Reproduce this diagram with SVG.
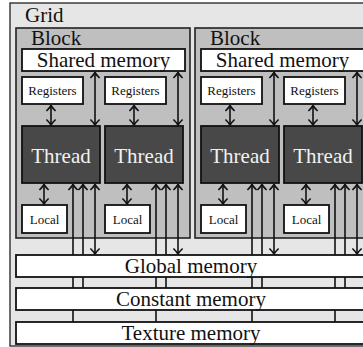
<svg xmlns="http://www.w3.org/2000/svg" width="363" height="347" viewBox="0 0 363 347">
<style>
text{font-family:"Liberation Serif","Times New Roman",serif;fill:#111}
.big{font-size:21px}
.sm{font-size:13px}
.c{text-anchor:middle}
.grid{fill:#e6e6e6;stroke:#222;stroke-width:1.3}
.block{fill:#bfbfbf;stroke:#222;stroke-width:1.6}
.box{fill:#fff;stroke:#111;stroke-width:1.8}
.thr{fill:#484848;stroke:#111;stroke-width:1.8}
.thrt{fill:#f2f2f2}
.ln{stroke:#111;stroke-width:1.6;fill:none}
</style>
<defs>
<marker id="ah" viewBox="-7 -6 8 12" markerUnits="userSpaceOnUse" markerWidth="8" markerHeight="12" refX="0" refY="0" orient="auto-start-reverse">
<path d="M-5.5,-4.6 Q-2.2,-1.2 0,0 Q-2.2,1.2 -5.5,4.6" fill="none" stroke="#111" stroke-width="1.6"/>
</marker>
</defs>
<g id="grid">
<rect class="grid" x="10" y="3" width="365" height="343"/>
<text class="big" x="25" y="22">Grid</text>
</g>
<g id="block1">
<rect class="block" x="16" y="28" width="174" height="210"/>
<text class="big" x="31" y="45">Block</text>
</g>
<g id="block2">
<rect class="block" x="195" y="28" width="174" height="210"/>
<text class="big" x="210" y="45">Block</text>
</g>
<g id="connectors">
<line class="ln" x1="51" y1="105.5" x2="51" y2="125" marker-start="url(#ah)" marker-end="url(#ah)"/>
<line class="ln" x1="134" y1="105.5" x2="134" y2="125" marker-start="url(#ah)" marker-end="url(#ah)"/>
<line class="ln" x1="95" y1="72.5" x2="95" y2="125" marker-start="url(#ah)" marker-end="url(#ah)"/>
<line class="ln" x1="178" y1="72.5" x2="178" y2="125" marker-start="url(#ah)" marker-end="url(#ah)"/>
<line class="ln" x1="44" y1="184.5" x2="44" y2="204" marker-start="url(#ah)" marker-end="url(#ah)"/>
<line class="ln" x1="127" y1="184.5" x2="127" y2="204" marker-start="url(#ah)" marker-end="url(#ah)"/>
<line class="ln" x1="95" y1="184.5" x2="95" y2="254" marker-start="url(#ah)" marker-end="url(#ah)"/>
<line class="ln" x1="178" y1="184.5" x2="178" y2="254" marker-start="url(#ah)" marker-end="url(#ah)"/>
<line class="ln" x1="83" y1="288" x2="83" y2="184.5" marker-end="url(#ah)"/>
<line class="ln" x1="166" y1="288" x2="166" y2="184.5" marker-end="url(#ah)"/>
<line class="ln" x1="73" y1="322" x2="73" y2="184.5" marker-end="url(#ah)"/>
<line class="ln" x1="156" y1="322" x2="156" y2="184.5" marker-end="url(#ah)"/>
<line class="ln" x1="230" y1="105.5" x2="230" y2="125" marker-start="url(#ah)" marker-end="url(#ah)"/>
<line class="ln" x1="313" y1="105.5" x2="313" y2="125" marker-start="url(#ah)" marker-end="url(#ah)"/>
<line class="ln" x1="274" y1="72.5" x2="274" y2="125" marker-start="url(#ah)" marker-end="url(#ah)"/>
<line class="ln" x1="357" y1="72.5" x2="357" y2="125" marker-start="url(#ah)" marker-end="url(#ah)"/>
<line class="ln" x1="223" y1="184.5" x2="223" y2="204" marker-start="url(#ah)" marker-end="url(#ah)"/>
<line class="ln" x1="306" y1="184.5" x2="306" y2="204" marker-start="url(#ah)" marker-end="url(#ah)"/>
<line class="ln" x1="274" y1="184.5" x2="274" y2="254" marker-start="url(#ah)" marker-end="url(#ah)"/>
<line class="ln" x1="357" y1="184.5" x2="357" y2="254" marker-start="url(#ah)" marker-end="url(#ah)"/>
<line class="ln" x1="262" y1="288" x2="262" y2="184.5" marker-end="url(#ah)"/>
<line class="ln" x1="345" y1="288" x2="345" y2="184.5" marker-end="url(#ah)"/>
<line class="ln" x1="252" y1="322" x2="252" y2="184.5" marker-end="url(#ah)"/>
<line class="ln" x1="335" y1="322" x2="335" y2="184.5" marker-end="url(#ah)"/>
</g>
<g id="shared1"><rect class="box" x="22" y="49" width="163" height="22"/><text class="big c" x="103.5" y="67">Shared memory</text></g>
<g id="registers1a"><rect class="box" x="22" y="77" width="61" height="27"/><text class="sm c" x="52.5" y="95">Registers</text></g>
<g id="registers1b"><rect class="box" x="105" y="77" width="61" height="27"/><text class="sm c" x="135.5" y="95">Registers</text></g>
<g id="thread1a"><rect class="thr" x="22" y="126" width="78" height="57"/><text class="big c thrt" x="61" y="163">Thread</text></g>
<g id="thread1b"><rect class="thr" x="105" y="126" width="78" height="57"/><text class="big c thrt" x="144" y="163">Thread</text></g>
<g id="local1a"><rect class="box" x="22" y="205" width="45" height="28"/><text class="sm c" x="44.5" y="224">Local</text></g>
<g id="local1b"><rect class="box" x="105" y="205" width="45" height="28"/><text class="sm c" x="127.5" y="224">Local</text></g>
<g id="shared2"><rect class="box" x="201" y="49" width="163" height="22"/><text class="big c" x="282.5" y="67">Shared memory</text></g>
<g id="registers2a"><rect class="box" x="201" y="77" width="61" height="27"/><text class="sm c" x="231.5" y="95">Registers</text></g>
<g id="registers2b"><rect class="box" x="284" y="77" width="61" height="27"/><text class="sm c" x="314.5" y="95">Registers</text></g>
<g id="thread2a"><rect class="thr" x="201" y="126" width="78" height="57"/><text class="big c thrt" x="240" y="163">Thread</text></g>
<g id="thread2b"><rect class="thr" x="284" y="126" width="78" height="57"/><text class="big c thrt" x="323" y="163">Thread</text></g>
<g id="local2a"><rect class="box" x="201" y="205" width="45" height="28"/><text class="sm c" x="223.5" y="224">Local</text></g>
<g id="local2b"><rect class="box" x="284" y="205" width="45" height="28"/><text class="sm c" x="306.5" y="224">Local</text></g>
<g id="global"><rect class="box" x="16" y="255" width="353" height="22"/><text class="big c" x="191" y="273">Global memory</text></g>
<g id="constant"><rect class="box" x="16" y="288" width="353" height="22"/><text class="big c" x="191" y="306">Constant memory</text></g>
<g id="texture"><rect class="box" x="16" y="322" width="353" height="22"/><text class="big c" x="191" y="340">Texture memory</text></g>
</svg>
